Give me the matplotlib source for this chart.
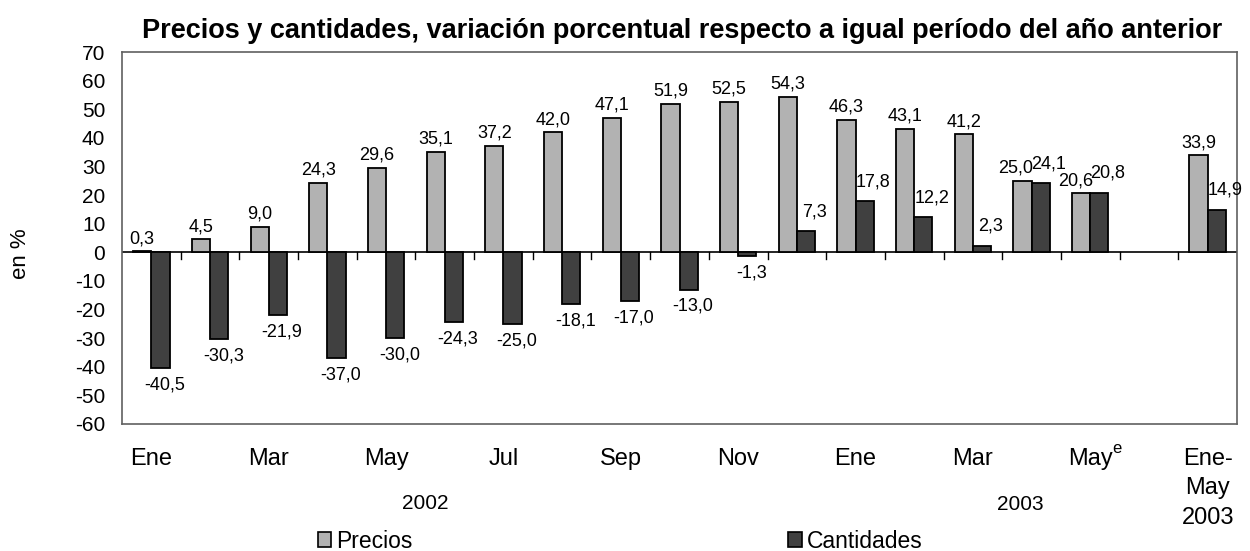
import numpy as np
import matplotlib
matplotlib.use("Agg")
import matplotlib.pyplot as plt
from matplotlib.patches import Patch
import matplotlib.transforms as mtransforms

plt.rcParams['font.family'] = ['Liberation Sans', 'DejaVu Sans']
plt.rcParams['axes.unicode_minus'] = False

# data (Ene 2002 .. May 2003, empty slot, Ene-May 2003)
precios = [0.3, 4.5, 9.0, 24.3, 29.6, 35.1, 37.2, 42.0, 47.1, 51.9, 52.5, 54.3,
           46.3, 43.1, 41.2, 25.0, 20.6, None, 33.9]
cantidades = [-40.5, -30.3, -21.9, -37.0, -30.0, -24.3, -25.0, -18.1, -17.0, -13.0, -1.3, 7.3,
              17.8, 12.2, 2.3, 24.1, 20.8, None, 14.9]
tick_labels = ['Ene', '', 'Mar', '', 'May', '', 'Jul', '', 'Sep', '', 'Nov', '',
               'Ene', '', 'Mar', '', 'May', '', 'Ene-\nMay\n2003']
years = ['2002', '2003']

fig = plt.figure(figsize=(12.5, 5.51), dpi=100)
ax = fig.add_axes([0.0976, 0.2305, 0.892, 0.675])

x = np.arange(len(precios))
w = 0.31
xp = [i - w / 2 for i, v in zip(x, precios) if v is not None]
vp = [v for v in precios if v is not None]
xc = [i + w / 2 for i, v in zip(x, cantidades) if v is not None]
vc = [v for v in cantidades if v is not None]

ax.bar(xp, vp, w, color='#b2b2b2', edgecolor='black', linewidth=1.3, label='Precios', zorder=3)
ax.bar(xc, vc, w, color='#404040', edgecolor='black', linewidth=1.3, label='Cantidades', zorder=3)

# value labels
nudge_p = {15: -5, 16: -4}
for xi, v, i in zip(xp, vp, [i for i, v in enumerate(precios) if v is not None]):
    ax.annotate(f"{v:.1f}".replace('.', ','), (xi, v), xytext=(nudge_p.get(i, 0), 3),
                textcoords='offset points', ha='center', va='bottom', fontsize=13)
for xi, v in zip(xc, vc):
    if v >= 0:
        ax.annotate(f"{v:.1f}".replace('.', ','), (xi, v), xytext=(6, 8),
                    textcoords='offset points', ha='center', va='bottom', fontsize=13)
    else:
        ax.annotate(f"{v:.1f}".replace('.', ','), (xi, v), xytext=(3, -6),
                    textcoords='offset points', ha='center', va='top', fontsize=13)

# zero line with small ticks between categories
ax.axhline(0, color='black', lw=1.2, zorder=2)
for b in x[:-1] + 0.5:
    ax.plot([b, b], [0, -2.5], color='black', lw=1.0, zorder=2)

ax.set_xlim(-0.5, len(x) - 0.5)
ax.set_ylim(-60, 70)
ax.set_yticks(range(-60, 71, 10))
ax.tick_params(axis='y', length=0, pad=12, labelsize=15)
ax.set_xticks(x)
ax.set_xticklabels(tick_labels, fontsize=17, linespacing=1.45)
ax.tick_params(axis='x', length=0, pad=17)
for s in ax.spines.values():
    s.set_color('#606060')
    s.set_linewidth(1.2)

# superscript "e" on the last month (estimate)
xtrans = mtransforms.blended_transform_factory(ax.transData, ax.transAxes)
ax.annotate('e', (16, 0), xycoords=xtrans, xytext=(19, -18), textcoords='offset points',
            ha='center', va='center', fontsize=12, annotation_clip=False)

fig.text(0.5456, 0.944, 'Precios y cantidades, variación porcentual respecto a igual período del año anterior',
         ha='center', va='center', fontsize=19.5, fontweight='bold')
fig.text(0.016, 0.54, 'en %', rotation=90, ha='center', va='center', fontsize=16)

trans = mtransforms.blended_transform_factory(ax.transData, fig.transFigure)
ax.text(4.66, 0.087, years[0], transform=trans, ha='center', va='center', fontsize=15)
ax.text(14.8, 0.085, years[1], transform=trans, ha='center', va='center', fontsize=15)

handles = [Patch(facecolor='#b2b2b2', edgecolor='black', lw=1.2),
           Patch(facecolor='#404040', edgecolor='black', lw=1.2)]
fig.legend(handles, ['Precios', 'Cantidades'], loc='center', bbox_to_anchor=(0.496, 0.018),
           ncol=2, frameon=False, fontsize=16.5, handlelength=0.6, handleheight=0.6,
           handletextpad=0.2, columnspacing=16.4, borderpad=0)

fig.savefig('out.png', dpi=100)
